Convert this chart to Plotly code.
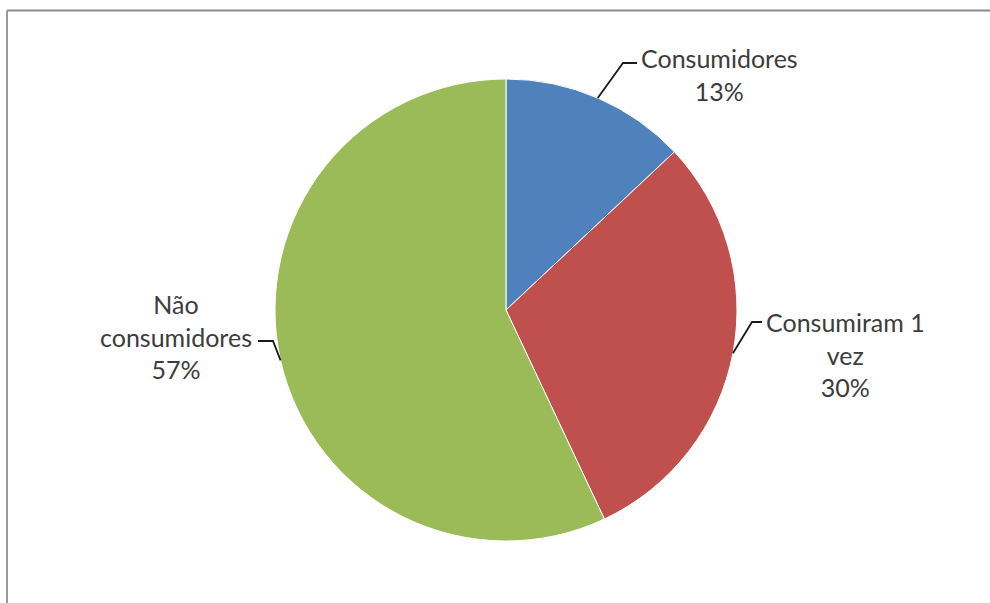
import math
import plotly.graph_objects as go

# Survey shares
categories = ["Consumidores", "Consumiram 1 vez", "Não consumidores"]
values = [13, 30, 57]
colors = ["#4F81BD", "#C0504D", "#9BBB59"]

W, H = 990, 603
CX, CY, R = 506, 310, 231  # pie centre and radius in pixels

# label text centres and leader elbows (pixels)
label_pos = [(719, 74), (845, 354), (176, 336)]
label_text = ["Consumidores<br>{}%", "Consumiram 1<br>vez<br>{}%", "Não<br>consumidores<br>{}%"]
elbows = [((623, 63), (637, 63)), ((752, 322), (762, 322)), ((273, 341), (258, 341))]


def px(x):
    return x / W


def py(y):
    return 1 - y / H


fig = go.Figure(go.Pie(
    labels=categories,
    values=values,
    marker=dict(colors=colors, line=dict(color="white", width=1)),
    sort=False,
    direction="clockwise",
    rotation=0,
    textinfo="none",
    hoverinfo="label+percent",
    showlegend=False,
    domain=dict(x=[px(CX - R), px(CX + R)], y=[py(CY + R), py(CY - R)]),
))

total = sum(values)
cum = 0
shapes = []
annotations = []
for i, v in enumerate(values):
    theta = math.radians(360 * (cum + v / 2) / total)
    cum += v
    ex = CX + R * math.sin(theta)
    ey = CY - R * math.cos(theta)
    (bx, by), (tx, ty) = elbows[i]
    shapes.append(dict(
        type="path", xref="paper", yref="paper",
        path=f"M {px(ex)} {py(ey)} L {px(bx)} {py(by)} L {px(tx)} {py(ty)}",
        line=dict(color="#1a1a1a", width=1.8),
    ))
    lx, ly = label_pos[i]
    pct = round(100 * v / total)
    annotations.append(dict(
        x=px(lx), y=py(ly), xref="paper", yref="paper",
        text=label_text[i].format(pct), showarrow=False,
        xanchor="center", yanchor="middle", align="center",
        font=dict(family="Lato, Carlito, sans-serif", size=25, color="#3c3c3c"),
    ))

# chart frame
shapes.append(dict(type="line", xref="paper", yref="paper",
                   x0=px(7), y0=py(10.5), x1=1.0, y1=py(10.5),
                   line=dict(color="#8a8a8a", width=2)))
shapes.append(dict(type="line", xref="paper", yref="paper",
                   x0=px(7), y0=py(10.5), x1=px(7), y1=0,
                   line=dict(color="#9a9a9a", width=2)))

fig.update_layout(
    width=W, height=H,
    margin=dict(l=0, r=0, t=0, b=0),
    paper_bgcolor="white", plot_bgcolor="white",
    shapes=shapes, annotations=annotations,
)

fig.write_html("out.html")
